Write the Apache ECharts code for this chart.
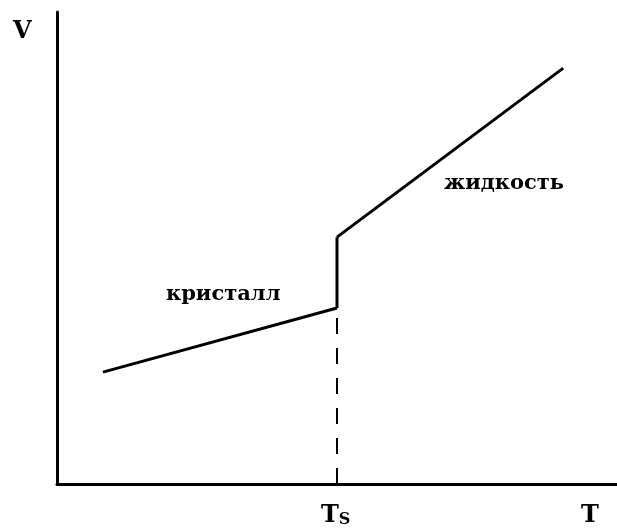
<!DOCTYPE html>
<html>
<head>
<meta charset="utf-8">
<script src="https://cdn.jsdelivr.net/npm/echarts@6/dist/echarts.min.js"></script>
<style>
  html, body { margin: 0; padding: 0; background: #fff; }
  #chart { width: 617px; height: 532px; }
</style>
</head>
<body>
<div id="chart"></div>
<script>
// точки кривой V(T)
var crystal = [[8.2, 23.7], [50, 37.3]];
var jump = [[50, 37.3], [50, 52.3]];
var liquid = [[50, 52.3], [90.4, 88.1]];
var tsLine = [[50, 0], [50, 35.2]];

var serif = '"DejaVu Serif", "Liberation Serif", serif';

var chart = echarts.init(document.getElementById('chart'));

function solid(data) {
  return {
    type: 'line',
    data: data,
    symbol: 'none',
    silent: true,
    lineStyle: { color: '#000', width: 3 }
  };
}

chart.setOption({
  animation: false,
  grid: { left: 57, right: 0, top: 12, bottom: 48 },
  xAxis: {
    type: 'value',
    min: 0,
    max: 100,
    axisLine: { lineStyle: { color: '#000', width: 3 } },
    axisTick: { show: false },
    axisLabel: { show: false },
    splitLine: { show: false }
  },
  yAxis: {
    type: 'value',
    min: 0,
    max: 100,
    axisLine: { show: true, lineStyle: { color: '#000', width: 3 } },
    axisTick: { show: false },
    axisLabel: { show: false },
    splitLine: { show: false }
  },
  series: [
    solid(crystal),
    solid(jump),
    solid(liquid),
    {
      type: 'line',
      data: tsLine,
      symbol: 'none',
      silent: true,
      lineStyle: { color: '#000', width: 2, type: [16, 14] }
    }
  ],
  graphic: [
    { type: 'text', left: 13, top: 20, style: { text: 'V', font: 'bold 24px ' + serif, fill: '#000' } },
    { type: 'text', left: 581, top: 504, style: { text: 'T', font: 'bold 24px ' + serif, fill: '#000' } },
    {
      type: 'text', left: 321, top: 504,
      style: {
        text: '{a|T}{b|S}',
        rich: {
          a: { font: 'bold 24px ' + serif, fill: '#000' },
          b: { font: 'bold 16px ' + serif, fill: '#000', padding: [8, 0, 0, 0] }
        }
      }
    },
    { type: 'text', left: 166, top: 284, style: { text: 'кристалл', font: 'bold 21px ' + serif, fill: '#000' } },
    { type: 'text', left: 444, top: 173, style: { text: 'жидкость', font: 'bold 21px ' + serif, fill: '#000' } }
  ]
});
</script>
</body>
</html>
